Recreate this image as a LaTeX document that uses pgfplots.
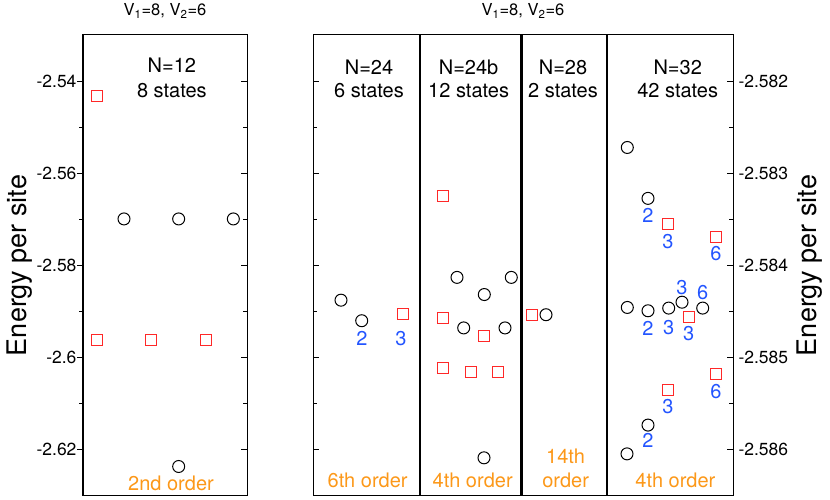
\documentclass[border=0pt]{standalone}
\usepackage{fontspec}
\setmainfont{TeX Gyre Heros}
\usepackage{pgfplots}
\pgfplotsset{compat=1.18}

\definecolor{sqred}{RGB}{255,40,40}
\definecolor{ordcol}{RGB}{252,152,25}
\definecolor{degblue}{RGB}{35,85,255}

\newcommand{\lab}{\fontsize{20}{24}\selectfont}
\newcommand{\tck}{\fontsize{17.5}{21}\selectfont}
\newcommand{\ttl}{\fontsize{16.5}{19}\selectfont}
\newcommand{\axl}{\fontsize{27}{31}\selectfont}

\pgfplotsset{
  lev/.style={scale only axis, height=461pt, clip=false, xtick=\empty,
    axis line style={line width=1pt}, tick style={line width=1pt, black},
    major tick length=6pt, minor tick length=4pt, minor y tick num=1,
    tick align=inside, /pgf/number format/assume math mode=true,
    yticklabel style={font=\tck}},
  circ/.style={only marks, mark=o, mark size=6pt,
    mark options={line width=1pt, draw=black}},
  sq/.style={only marks, mark=square, mark size=5.5pt,
    mark options={line width=1pt, draw=sqred}},
}
\tikzset{
  deg/.style={font=\lab, text=degblue},
  ord/.style={font=\lab, text=ordcol},
}

\begin{document}
\begin{tikzpicture}
\useasboundingbox (0,0) rectangle (830pt,500pt);

% left panel, N=12
\begin{axis}[lev, at={(83pt,4pt)}, anchor=south west, width=164pt,
    xmin=0, xmax=6, ymin=-2.63, ymax=-2.53,
    ytick={-2.62,-2.6,-2.58,-2.56,-2.54}, ytick pos=right, yticklabels={}]
\addplot[sq] coordinates {(0.5,-2.5432)(0.5,-2.5962)(2.5,-2.5962)(4.5,-2.5962)};
\addplot[circ] coordinates {(1.5,-2.5699)(3.5,-2.5699)(5.5,-2.5699)(3.5,-2.6236)};
\node[font=\lab] at (axis cs:3.25,-2.53647) {N=12};
\node[font=\lab] at (axis cs:3.25,-2.54204) {8 states};
\node[ord] at (axis cs:3.22,-2.62726) {2nd order};
\node[font=\ttl] at ([yshift=24pt]rel axis cs:0.5,1) {V\textsubscript{1}=8, V\textsubscript{2}=6};
\node[font=\axl, rotate=90] at ([xshift=-63pt]rel axis cs:0,0.5) {Energy per site};
\end{axis}
\begin{axis}[lev, at={(83pt,4pt)}, anchor=south west, width=164pt,
    xmin=0, xmax=6, ymin=-2.63, ymax=-2.53, hide x axis,
    axis y line*=left, tick align=outside,
    ytick={-2.62,-2.6,-2.58,-2.56,-2.54},
    yticklabel style={xshift=3pt, /pgf/number format/.cd, fixed, precision=2}]
\end{axis}

% right panel, N=24 ... N=32
\begin{axis}[lev, at={(313pt,4pt)}, anchor=south west, width=420pt,
    xmin=313, xmax=733, ymin=-2.5865, ymax=-2.5815,
    ytick={-2.586,-2.585,-2.584,-2.583,-2.582}, yticklabel pos=right,
    yticklabel style={xshift=2pt, /pgf/number format/.cd, fixed, precision=3}]
\draw[line width=2.6pt] (axis cs:420,-2.5865) -- (axis cs:420,-2.5815);
\draw[line width=2.6pt] (axis cs:521.5,-2.5865) -- (axis cs:521.5,-2.5815);
\draw[line width=2.6pt] (axis cs:607,-2.5865) -- (axis cs:607,-2.5815);
% N=24
\addplot[circ] coordinates {(341,-2.584376)(361.7,-2.584599)};
\addplot[sq] coordinates {(402.7,-2.584524)};
% N=24b
\addplot[sq] coordinates {(443.3,-2.583244)(443.3,-2.584570)(484.3,-2.584767)
  (443.3,-2.585115)(470.7,-2.585151)(498,-2.585151)};
\addplot[circ] coordinates {(457,-2.584129)(484.3,-2.584315)(511.3,-2.584129)
  (463.7,-2.584677)(505,-2.584677)(484,-2.586086)};
% N=28
\addplot[sq] coordinates {(532,-2.584534)};
\addplot[circ] coordinates {(546,-2.584534)};
% N=32
\addplot[circ] coordinates {(627.3,-2.582720)(648,-2.583272)(627.3,-2.584455)
  (648,-2.584491)(668.7,-2.584462)(682,-2.584398)(702.7,-2.584462)
  (648,-2.585731)(627,-2.586043)};
\addplot[sq] coordinates {(668.3,-2.583548)(716,-2.583691)(688.7,-2.584559)
  (716,-2.585172)(668.3,-2.585348)};
% degeneracies
\node[deg] at (axis cs:362,-2.584792) {2};
\node[deg] at (axis cs:401,-2.584796) {3};
\node[deg] at (axis cs:648,-2.583459) {2};
\node[deg] at (axis cs:668,-2.583739) {3};
\node[deg] at (axis cs:716,-2.583871) {6};
\node[deg] at (axis cs:648,-2.584685) {2};
\node[deg] at (axis cs:668.7,-2.584670) {3};
\node[deg] at (axis cs:682,-2.584240) {3};
\node[deg] at (axis cs:688.7,-2.584742) {3};
\node[deg] at (axis cs:702.7,-2.584290) {6};
\node[deg] at (axis cs:716,-2.585366) {6};
\node[deg] at (axis cs:668,-2.585530) {3};
\node[deg] at (axis cs:648,-2.585898) {2};
% headers
\node[font=\lab] at (axis cs:369,-2.581846) {N=24};
\node[font=\lab] at (axis cs:369,-2.582104) {6 states};
\node[font=\lab] at (axis cs:468.6,-2.581846) {N=24b};
\node[font=\lab] at (axis cs:468.6,-2.582104) {12 states};
\node[font=\lab] at (axis cs:563,-2.581846) {N=28};
\node[font=\lab] at (axis cs:563,-2.582104) {2 states};
\node[font=\lab] at (axis cs:677.7,-2.581846) {N=32};
\node[font=\lab] at (axis cs:677.7,-2.582104) {42 states};
% orders
\node[ord] at (axis cs:367.6,-2.586333) {6th order};
\node[ord] at (axis cs:472.7,-2.586333) {4th order};
\node[ord] at (axis cs:565.6,-2.586065) {14th};
\node[ord] at (axis cs:565.6,-2.586333) {order};
\node[ord] at (axis cs:675.4,-2.586333) {4th order};
\node[font=\ttl] at ([yshift=24pt]rel axis cs:0.5,1) {V\textsubscript{1}=8, V\textsubscript{2}=6};
\node[font=\axl, rotate=90] at ([xshift=77pt]rel axis cs:1,0.5) {Energy per site};
\end{axis}
\end{tikzpicture}
\end{document}
